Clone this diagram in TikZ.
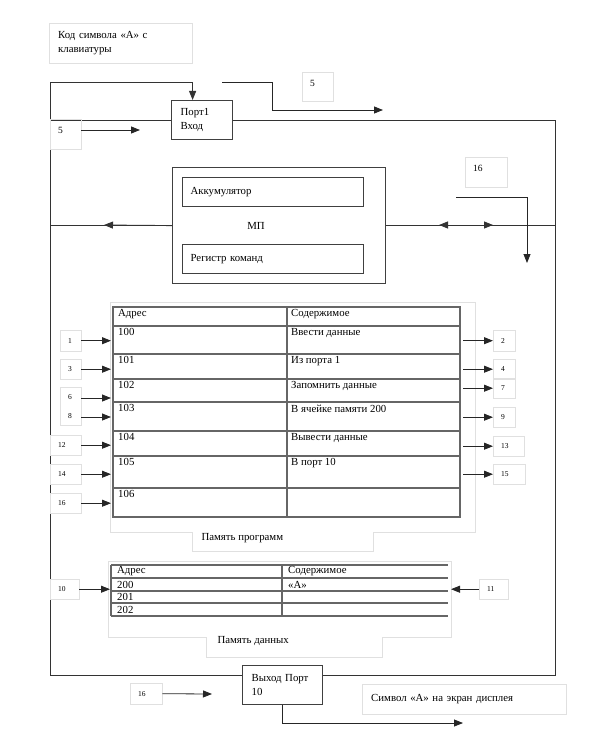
\documentclass[tikz,border=0pt]{standalone}
\usepackage{fontspec}
\setmainfont{Liberation Serif}
\usetikzlibrary{arrows.meta}

\begin{document}
\begin{tikzpicture}[
  x=1pt, y=-1pt, font=\fontsize{10.8}{14}\selectfont,
  >={Triangle[length=9pt,width=7pt]},
  bus/.style={draw=black!80, line width=0.9pt},
  arr/.style={->, draw=black!85, line width=0.8pt},
  hw/.style={rectangle, draw=black!75, line width=1.2pt, anchor=north west,
             align=left, inner xsep=9pt},
  txt/.style={rectangle, draw=black!12, anchor=north west, align=left, inner xsep=9pt},
  numbox/.style={rectangle, draw=black!12, anchor=north west, align=left,
                 inner xsep=8pt, inner ysep=0pt, minimum height=20pt,
                 font=\fontsize{7.5}{8}\selectfont, text width=#1},
  bignum/.style={numbox=#1, font=\fontsize{9.5}{10}\selectfont, text depth=7pt},
  grid/.style={draw=black!60, line width=1.2pt},
  shell/.style={draw=black!12, line width=0.6pt},
  cell/.style={anchor=north west, inner sep=1pt}]

  \useasboundingbox (0,0) rectangle (596,741);

  % corners of the system bus
  \coordinate (cTL) at (50,82);
  \coordinate (cBL) at (50,675);
  \coordinate (cBR) at (555,675);
  \coordinate (cTR) at (555,120);

  % keyboard, ports, processor
  \node[txt, text width=125pt, minimum height=40pt] (kbd) at (49,23)
    {Код символа «А» с\\клавиатуры};
  \node[hw, text width=43pt, minimum height=39pt] (port1) at (171,100) {Порт1\\Вход};
  \node[hw, minimum width=213pt, minimum height=116pt, inner sep=0pt] (mp) at (172,167) {};
  \node[hw, text width=165pt, minimum height=29pt, inner xsep=8pt] (acc) at (182,177) {Аккумулятор};
  \node[hw, text width=165pt, minimum height=29pt, inner xsep=8pt] (reg) at (182,244) {Регистр команд};
  \node (mplbl) at (256,226) {МП};
  \node[hw, text width=62pt, minimum height=39pt] (outp) at (242,665) {Выход Порт\\10};
  \node[txt, text width=186pt, minimum height=30pt] (disp) at (362,684)
    {Символ «А» на экран дисплея};

  % bus lines
  \draw[bus, ->] (cBL) -- (cTL) -| ([xshift=-9.5pt]port1.north);
  \draw[bus] (cTL |- port1.west) -- (port1.west);
  \draw[bus] (port1.east) -- (port1.east -| cTR) -- (cBR) -- (cBR -| outp.east);
  \draw[bus] (cBL) -- (cBL -| outp.west);

  \coordinate (aL) at (104,225);
  \coordinate (aM) at (466,225);
  \draw[bus] (mp.west) -- (cTL |- mp.west);
  \draw[bus, ->] (mp.west) -- (aL);
  \draw[bus] (mp.east) -- (cTR |- mp.east);
  \draw[bus, ->] (aM) -- (439,225);
  \draw[bus, ->] (aM) -- (493,225);

  % step numbers near the bus
  \node[bignum=15pt, minimum height=29pt] (b5t) at (302,72) {5};
  \node[bignum=15pt, minimum height=30pt] (b5l) at (50,119) {5};
  \node[bignum=26pt, minimum height=30pt] (b16t) at (465,157) {16};
  \coordinate (k0) at (222,82);
  \coordinate (k1) at (383,110);
  \draw[arr] (k0) -| (272,110) -- (k1);
  \coordinate (f5) at (140,130);
  \draw[arr] (f5 -| b5l.east) -- (f5);
  \coordinate (s0) at (456,197);
  \coordinate (s1) at (527,263);
  \draw[arr] (s0) -| (s1);

  % program memory
  \draw[shell] (110,302) -- (475,302) -- (475,532) -- (373,532) -- (373,551)
    -- (192,551) -- (192,532) -- (110,532) -- cycle;
  \node[anchor=west] (pmlbl) at (198,538) {Память программ};
  \draw[grid] (113,307) rectangle (460,517);
  \draw[grid] (287,307) -- (287,517);
  \foreach \y in {326,354,379,402,431,456,488}
    \draw[grid] (113,\y) -- (460,\y);
  \foreach \y/\a/\c in {307/Адрес/Содержимое, 326/100/Ввести данные,
      354/101/Из порта 1, 379/102/Запомнить данные, 402/103/В ячейке памяти 200,
      431/104/Вывести данные, 456/105/В порт 10, 488/106/{}} {
    \node[cell] (pa\y) at (117,\y+1.5) {\a};
    \node[cell] (pc\y) at (290,\y+1.5) {\c};
  }

  \node[numbox=5pt, minimum height=21pt] (b1) at (60,330) {1};
  \node[numbox=5pt] (b3) at (60,359) {3};
  \node[numbox=5pt, minimum height=38pt] (b68) at (60,387) {6\\[11pt]8};
  \node[numbox=15pt] (b12) at (50,435) {12};
  \node[numbox=15pt] (b14) at (50,464) {14};
  \node[numbox=15pt] (b16) at (50,493) {16};
  \node[numbox=6pt, minimum height=21pt] (b2) at (493,330) {2};
  \node[numbox=6pt] (b4) at (493,359) {4};
  \node[numbox=6pt] (b7) at (493,378) {7};
  \node[numbox=6pt] (b9) at (493,407) {9};
  \node[numbox=15pt] (b13) at (493,436) {13};
  \node[numbox=16pt] (b15) at (493,464) {15};

  \coordinate (pL) at (111,0);
  \coordinate (pR) at (463,0);
  \coordinate (r6) at (81,398);
  \coordinate (r8) at (81,417);
  \foreach \b in {b1,b3,b12,b14,b16}
    \draw[arr] (\b.east) -- (\b.east -| pL);
  \draw[arr] (r6) -- (r6 -| pL);
  \draw[arr] (r8) -- (r8 -| pL);
  \foreach \b in {b2,b4,b7,b9,b13,b15}
    \draw[arr] (\b.west -| pR) -- (\b.west);

  % data memory
  \draw[shell] (108,561) -- (451,561) -- (451,637) -- (382,637) -- (382,657)
    -- (206,657) -- (206,637) -- (108,637) -- cycle;
  \node[anchor=west] (dmlbl) at (214,641) {Память данных};
  \foreach \y in {565,578,591,603,616}
    \draw[grid] (111,\y) -- (448,\y);
  \draw[grid] (111,565) -- (111,616);
  \draw[grid] (282,565) -- (282,616);
  \foreach \y/\a/\c in {571.5/Адрес/Содержимое, 584.5/200/«А», 597/201/{}, 609.5/202/{}} {
    \node[anchor=west, inner sep=1pt] (da\y) at (116,\y) {\a};
    \node[anchor=west, inner sep=1pt] (dc\y) at (287,\y) {\c};
  }

  \node[numbox=13pt] (b10) at (50,579) {10};
  \node[numbox=13pt] (b11) at (479,579) {11};
  \coordinate (dL) at (110,0);
  \coordinate (dR) at (451,0);
  \draw[arr] (b10.east) -- (b10.east -| dL);
  \draw[arr] (b11.west) -- (b11.west -| dR);

  % output
  \node[numbox=16pt, minimum height=21pt] (b16b) at (130,683) {16};
  \coordinate (f16) at (212,694);
  \draw[arr] (b16b.east) -- (f16);
  \coordinate (f10) at (463,723);
  \draw[arr] (outp.south) |- (f10);
\end{tikzpicture}
\end{document}
